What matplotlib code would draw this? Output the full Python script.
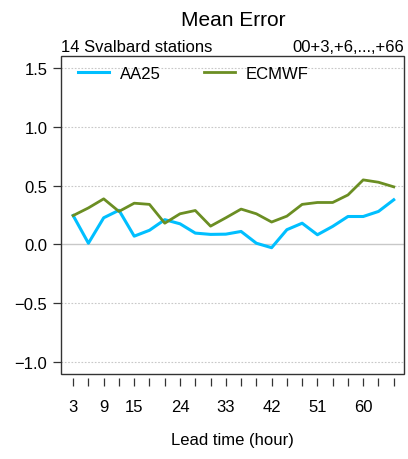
import matplotlib
matplotlib.use("Agg")
import matplotlib.pyplot as plt
from matplotlib.patches import Rectangle

plt.rcParams['font.family'] = ['Liberation Sans', 'DejaVu Sans']

# --- data ---
lead_times = list(range(3, 67, 3))
aa25 = [0.245, 0.01, 0.226, 0.29, 0.07, 0.12, 0.21, 0.175, 0.096, 0.085, 0.087,
        0.11, 0.01, -0.028, 0.125, 0.18, 0.082, 0.153, 0.237, 0.237, 0.28, 0.379]
ecmwf = [0.245, 0.31, 0.387, 0.28, 0.35, 0.34, 0.18, 0.26, 0.288, 0.155, 0.226,
         0.30, 0.26, 0.19, 0.24, 0.34, 0.356, 0.356, 0.42, 0.548, 0.528, 0.489]
tick_labels_shown = [3, 9, 15, 24, 33, 42, 51, 60]
y_ticks = [-1.0, -0.5, 0.0, 0.5, 1.0, 1.5]

fig = plt.figure(figsize=(4.08, 4.6), dpi=100)
ax = fig.add_axes([0.150, 0.185, 0.840, 0.691])

# grid
for yv in y_ticks:
    if yv == 0:
        ax.axhline(yv, color='#c8c8c8', lw=1.0, zorder=1)
    else:
        ax.axhline(yv, color='#c8c8c8', lw=0.8, ls=(0, (1.5, 1.5)), zorder=1)

ax.plot(lead_times, aa25, color='#00BFFF', lw=2.2, label='AA25', zorder=3)
ax.plot(lead_times, ecmwf, color='#6B8E23', lw=2.0, label='ECMWF', zorder=3)

ax.set_xlim(0.65, 68.0)
ax.set_ylim(-1.1, 1.6)

# R-style box + detached x ticks
for s in ['top', 'right', 'left']:
    ax.spines[s].set_visible(False)
ax.add_patch(Rectangle((0, 0), 1, 1, transform=ax.transAxes, fill=False,
                       lw=1.0, ec='#333333', clip_on=False, zorder=5))
ax.spines['bottom'].set_position(('outward', 3))
ax.spines['bottom'].set_color('none')

ax.set_xticks(lead_times)
ax.set_xticklabels([str(t) if t in tick_labels_shown else '' for t in lead_times])
ax.tick_params(axis='x', length=6, width=0.9, color='#333333', pad=9, labelsize=12)

ax.set_yticks(y_ticks)
ax.set_yticklabels([f'{v:.1f}'.replace('-', '\u2212') for v in y_ticks])
ax.tick_params(axis='y', length=6, width=0.9, color='#333333', pad=4, labelsize=12)

ax.set_xlabel('Lead time (hour)', fontsize=12, labelpad=13)

ax.legend(loc='upper left', ncol=2, frameon=False, fontsize=12,
          handlelength=1.85, handletextpad=0.65, columnspacing=2.6,
          borderaxespad=0.2, bbox_to_anchor=(0.02, 1.0))

fig.text(0.572, 0.975, 'Mean Error', ha='center', va='top', fontsize=15)
ax.text(0.0, 1.005, '14 Svalbard stations', transform=ax.transAxes,
        ha='left', va='bottom', fontsize=12)
ax.text(1.0, 1.005, '00+3,+6,...,+66', transform=ax.transAxes,
        ha='right', va='bottom', fontsize=12)

fig.savefig('out.png', dpi=100)
